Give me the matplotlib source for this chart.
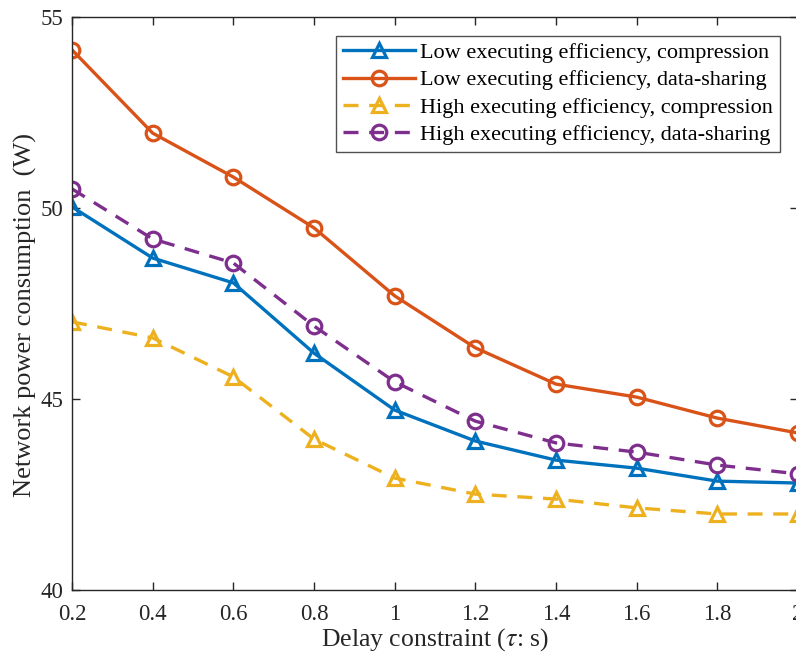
import matplotlib
matplotlib.use("Agg")
import matplotlib.pyplot as plt

plt.rcParams['font.family'] = ['Liberation Serif', 'DejaVu Serif']
plt.rcParams['mathtext.fontset'] = 'stix'

x = [0.2, 0.4, 0.6, 0.8, 1.0, 1.2, 1.4, 1.6, 1.8, 2.0]
low_comp = [50.03, 48.69, 48.04, 46.20, 44.71, 43.90, 43.40, 43.19, 42.85, 42.80]
low_share = [54.14, 51.96, 50.81, 49.48, 47.70, 46.34, 45.39, 45.05, 44.50, 44.11]
high_comp = [47.02, 46.60, 45.58, 43.95, 42.93, 42.51, 42.38, 42.15, 41.99, 41.99]
high_share = [50.50, 49.19, 48.56, 46.91, 45.45, 44.42, 43.85, 43.61, 43.27, 43.04]

labels = ["Low executing efficiency, compression",
          "Low executing efficiency, data-sharing",
          "High executing efficiency, compression",
          "High executing efficiency, data-sharing"]
xticks = [0.2, 0.4, 0.6, 0.8, 1.0, 1.2, 1.4, 1.6, 1.8, 2.0]
xticklabels = ["0.2", "0.4", "0.6", "0.8", "1", "1.2", "1.4", "1.6", "1.8", "2"]
yticks = [40, 45, 50, 55]

W, H = 796, 654
fig = plt.figure(figsize=(W/100, H/100), dpi=100)
ax = fig.add_axes([72/W, (H-590)/H, (798-72)/W, (590-17)/H])

blue, orange, yellow, purple = '#0072BD', '#D95319', '#EDB120', '#7E2F8E'
lw = 2.4
ms = 10.5
mew = 2.3
dash = (0, (4.5, 3.2))
ax.plot(x, low_comp, color=blue, lw=lw, marker='^', ms=ms, mew=mew, mfc='none', label=labels[0])
ax.plot(x, low_share, color=orange, lw=lw, marker='o', ms=ms, mew=mew, mfc='none', label=labels[1])
ax.plot(x, high_comp, color=yellow, lw=lw, ls=dash, marker='^', ms=ms, mew=mew, mfc='none', label=labels[2])
ax.plot(x, high_share, color=purple, lw=lw, ls=dash, marker='o', ms=ms, mew=mew, mfc='none', label=labels[3])

ax.set_xlim(0.2, 2.0)
ax.set_ylim(40, 55)
ax.set_xticks(xticks)
ax.set_xticklabels(xticklabels)
ax.set_yticks(yticks)
ax.tick_params(direction='in', length=6, width=1, colors='#262626', labelsize=16.5,
               top=True, right=True)
ax.tick_params(axis='x', pad=10)
ax.tick_params(axis='y', pad=6)
for s in ax.spines.values():
    s.set_color('#262626')
    s.set_linewidth(1.0)

ax.set_xlabel(r"Delay constraint ($\tau$: s)", fontsize=18.5, color='#262626', labelpad=1)
ax.set_ylabel("Network power consumption  (W)", fontsize=19, color='#262626')
ax.yaxis.set_label_coords(-35/726, 0.48)

leg = ax.legend(loc='upper right', bbox_to_anchor=((780-72)/(798-72), (590-36)/(590-17)),
                fontsize=16, frameon=True, fancybox=False, edgecolor='#262626',
                borderpad=0.3, labelspacing=0.3, handlelength=3.25, handletextpad=0.25,
                borderaxespad=0)
leg.get_frame().set_linewidth(1.0)

fig.savefig("out.png", dpi=100)
